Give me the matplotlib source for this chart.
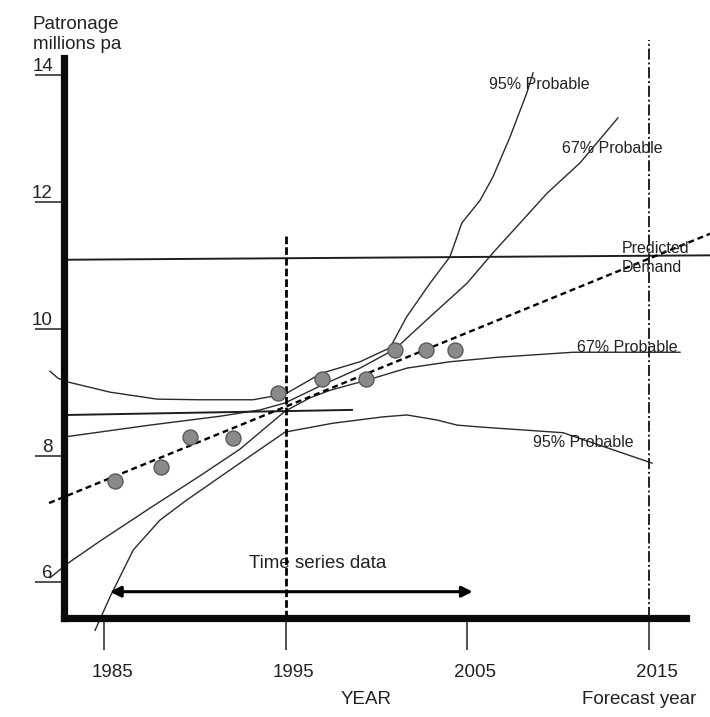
import matplotlib
matplotlib.use("Agg")
import matplotlib.pyplot as plt
from matplotlib.transforms import ScaledTranslation

plt.rcParams['font.family'] = ['Liberation Sans', 'DejaVu Sans']
plt.rcParams['lines.scale_dashes'] = False

# ---------------- data ----------------
obs_year = [1985.6, 1988.1, 1989.7, 1992.1, 1994.55, 1997.0, 1999.4, 2001.0, 2002.7, 2004.3]
obs_value = [7.59, 7.82, 8.30, 8.28, 8.98, 9.21, 9.21, 9.67, 9.67, 9.67]

trend_year = [1981.95, 2018.38]
trend_value = [7.25, 11.50]

upper95_year = [1982.0, 1982.44, 1982.99, 1985.31, 1987.9, 1990.27, 1993.19, 1994.96,
                1996.98, 1999.09, 2000.74, 2001.66, 2002.95, 2004.05, 2004.7, 2005.71,
                2006.42, 2007.36, 2008.28, 2008.63]
upper95_value = [9.33, 9.22, 9.16, 9.00, 8.89, 8.88, 8.88, 8.97,
                 9.30, 9.48, 9.70, 10.19, 10.72, 11.14, 11.67, 12.03,
                 12.40, 13.03, 13.72, 14.04]

upper67_year = [1982.72, 1987.51, 1991.37, 1993.58, 1994.96, 1996.98, 1999.09, 2001.02,
                2002.95, 2004.99, 2006.42, 2007.91, 2009.40, 2011.22, 2013.31]
upper67_value = [8.29, 8.48, 8.62, 8.72, 8.83, 9.11, 9.38, 9.68,
                 10.19, 10.72, 11.20, 11.67, 12.14, 12.62, 13.33]

lower67_year = [1982.0, 1982.99, 1984.76, 1987.51, 1990.27, 1992.47, 1994.13, 1994.96,
                1996.33, 1997.44, 1999.48, 2001.68, 2004.05, 2006.64, 2010.83, 2016.73]
lower67_value = [6.07, 6.30, 6.65, 7.17, 7.68, 8.10, 8.50, 8.70,
                 8.91, 9.03, 9.19, 9.38, 9.48, 9.55, 9.63, 9.63]

lower95_year = [1984.48, 1985.31, 1986.59, 1988.06, 1989.55, 1992.47, 1994.96, 1997.60,
                2000.36, 2001.68, 2003.34, 2004.44, 2005.71, 2010.28, 2015.19]
lower95_value = [5.24, 5.77, 6.51, 6.98, 7.30, 7.88, 8.37, 8.51,
                 8.61, 8.64, 8.56, 8.48, 8.45, 8.36, 7.88]

demand_year = [1982.72, 2018.38]
demand_value = [11.09, 11.16]

base_year = [1982.99, 1998.65]
base_value = [8.64, 8.72]

now_year = 1995
now_top = 11.51
forecast_year = 2015
forecast_top = 14.56

series_start, series_end, series_level = 1985.3, 2005.3, 5.85

x_ticks = [1985, 1995, 2005, 2015]
x_labels = ['1985', '1995', '2005', '2015']
y_ticks = [6, 8, 10, 12, 14]
y_labels = ['6', '8', '10', '12', '14']

# ---------------- figure ----------------
W, H = 710, 717
fig = plt.figure(figsize=(W / 100, H / 100), dpi=100)
fig.patch.set_facecolor('white')
ax = fig.add_axes([64 / W, 1 - 618 / H, (686 - 64) / W, (618 - 58) / H])
ax.set_xlim(1982.77, 2017.06)
ax.set_ylim(5.435, 14.275)
ax.set_facecolor('none')

for s in ['top', 'right']:
    ax.spines[s].set_visible(False)
for s in ['left', 'bottom']:
    ax.spines[s].set_linewidth(5.2)
    ax.spines[s].set_color('#0a0a0a')
    ax.spines[s].set_capstyle('projecting')
    ax.spines[s].set_zorder(5)

curve_kw = dict(color='#2b2b2b', lw=1.0, clip_on=False, zorder=3)
ax.plot(upper95_year, upper95_value, **curve_kw)
ax.plot(upper67_year, upper67_value, **curve_kw)
ax.plot(lower67_year, lower67_value, **curve_kw)
ax.plot(lower95_year, lower95_value, **curve_kw)

ax.plot(demand_year, demand_value, color='#1e1e1e', lw=1.4, clip_on=False, zorder=3)
ax.plot(base_year, base_value, color='#1e1e1e', lw=1.4, clip_on=False, zorder=3)

ax.plot(trend_year, trend_value, color='black', lw=1.7, clip_on=False, zorder=4,
        dashes=(4.3, 2.8))
ax.plot([now_year, now_year], [ax.get_ylim()[0], now_top], color='black', lw=2.0,
        clip_on=False, zorder=4, dashes=(5.5, 2.2))
ax.plot([forecast_year, forecast_year], [ax.get_ylim()[0], forecast_top], color='#222222',
        lw=1.4, clip_on=False, zorder=4, dashes=(8.0, 2.0, 1.4, 2.0))

ax.plot(obs_year, obs_value, linestyle='none', marker='o', markersize=10.8,
        markerfacecolor='#8a8a8a', markeredgecolor='#5a5a5a', markeredgewidth=1.0,
        zorder=6, clip_on=False)

ax.annotate('', xy=(series_end, series_level), xytext=(series_start, series_level),
            arrowprops=dict(arrowstyle='<|-|>', lw=2.2, color='black',
                            mutation_scale=16, shrinkA=0, shrinkB=0), zorder=4)
ax.text(1996.78, 6.30, 'Time series data', ha='center', va='center',
        fontsize=13.5, color='#222222')

# ticks
ax.set_xticks(x_ticks, labels=x_labels)
ax.tick_params(axis='x', direction='out', length=23, width=1.1, color='#222222',
               pad=10, labelsize=13.5, labelcolor='#222222')
shift = ScaledTranslation(0.08, 0, fig.dpi_scale_trans)
for lbl in ax.get_xticklabels():
    lbl.set_transform(lbl.get_transform() + shift)

ax.set_yticks(y_ticks, labels=y_labels)
ax.tick_params(axis='y', direction='out', length=21, width=1.1, color='#222222',
               pad=-13, labelsize=13.5, labelcolor='#222222')
for lbl in ax.get_yticklabels():
    lbl.set_va('bottom')

# curve labels
lab_kw = dict(fontsize=11.5, color='#222222', ha='left', va='center', zorder=7)
ax.text(2006.2, 13.86, '95% Probable', **lab_kw)
ax.text(2010.23, 12.84, '67% Probable', **lab_kw)
ax.text(2013.53, 11.26, 'Predicted', **lab_kw)
ax.text(2013.53, 10.96, 'Demand', **lab_kw)
ax.text(2011.05, 9.71, '67% Probable', **lab_kw)
ax.text(2008.63, 8.21, '95% Probable', **lab_kw)

# axis titles
def fpos(px, py):
    return px / W, 1 - py / H

fig.text(*fpos(33, 29), 'Patronage', fontsize=13.5, color='#222222', ha='left', va='baseline')
fig.text(*fpos(33, 49), 'millions pa', fontsize=13.5, color='#222222', ha='left', va='baseline')
fig.text(*fpos(366, 699), 'YEAR', fontsize=13.5, color='#222222', ha='center', va='center')
fig.text(*fpos(582, 699), 'Forecast year', fontsize=13.5, color='#222222', ha='left', va='center')

fig.savefig('out.png', dpi=100, facecolor='white')
